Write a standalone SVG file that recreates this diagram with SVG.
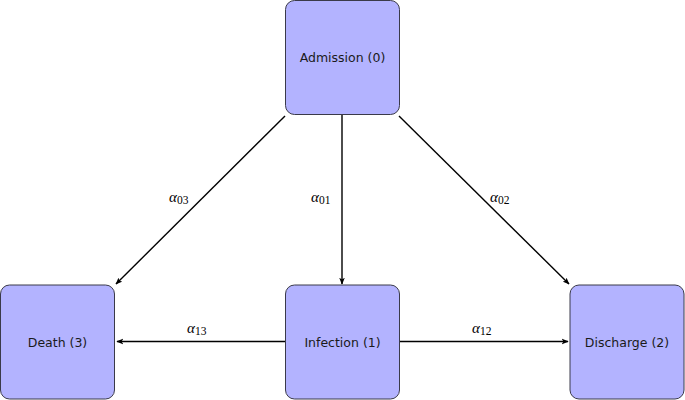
<svg xmlns="http://www.w3.org/2000/svg" width="685" height="400" viewBox="0 0 685 400">
<defs>
<style>
.box{fill:#b3b3ff;stroke:#3a3a4a;stroke-width:1}
.lbl{font-family:"DejaVu Sans","Liberation Sans",sans-serif;font-size:12.5px;fill:#1a1a1a;text-anchor:middle;dominant-baseline:central}
.edge{stroke:#000;stroke-width:1.4;fill:none;marker-end:url(#ah)}
.al{font-family:"Liberation Serif","DejaVu Serif",serif;font-size:15px;fill:#000}
.sub{font-size:11.5px}
</style>
<marker id="ah" viewBox="0 0 10 10" refX="9" refY="5" markerWidth="7" markerHeight="7" markerUnits="userSpaceOnUse" orient="auto">
<path d="M0,1 L10,5 L0,9 L2.5,5 Z" fill="#000"/>
</marker>
</defs>
<g id="connectors">
<line class="edge" x1="285" y1="116" x2="116" y2="284"/>
<line class="edge" x1="342" y1="115" x2="342" y2="284"/>
<line class="edge" x1="399" y1="116" x2="569" y2="284"/>
<line class="edge" x1="285" y1="341.5" x2="117" y2="341.5"/>
<line class="edge" x1="399" y1="341.5" x2="568" y2="341.5"/>
<text class="al" x="169" y="202"><tspan font-style="italic">α</tspan><tspan class="sub" dy="2">03</tspan></text>
<text class="al" x="311" y="202"><tspan font-style="italic">α</tspan><tspan class="sub" dy="2">01</tspan></text>
<text class="al" x="490" y="202"><tspan font-style="italic">α</tspan><tspan class="sub" dy="2">02</tspan></text>
<text class="al" x="187" y="333"><tspan font-style="italic">α</tspan><tspan class="sub" dy="2">13</tspan></text>
<text class="al" x="472" y="333"><tspan font-style="italic">α</tspan><tspan class="sub" dy="2">12</tspan></text>
</g>
<g id="admission">
<rect class="box" x="285.5" y="0.5" width="114" height="114" rx="9"/>
<text class="lbl" x="342.5" y="57.5">Admission (0)</text>
</g>
<g id="death">
<rect class="box" x="0.5" y="285" width="114" height="114" rx="9"/>
<text class="lbl" x="57.5" y="342">Death (3)</text>
</g>
<g id="infection">
<rect class="box" x="285.5" y="285" width="114" height="114" rx="9"/>
<text class="lbl" x="342.5" y="342">Infection (1)</text>
</g>
<g id="discharge">
<rect class="box" x="570" y="285" width="114" height="114" rx="9"/>
<text class="lbl" x="627" y="342">Discharge (2)</text>
</g>
</svg>
